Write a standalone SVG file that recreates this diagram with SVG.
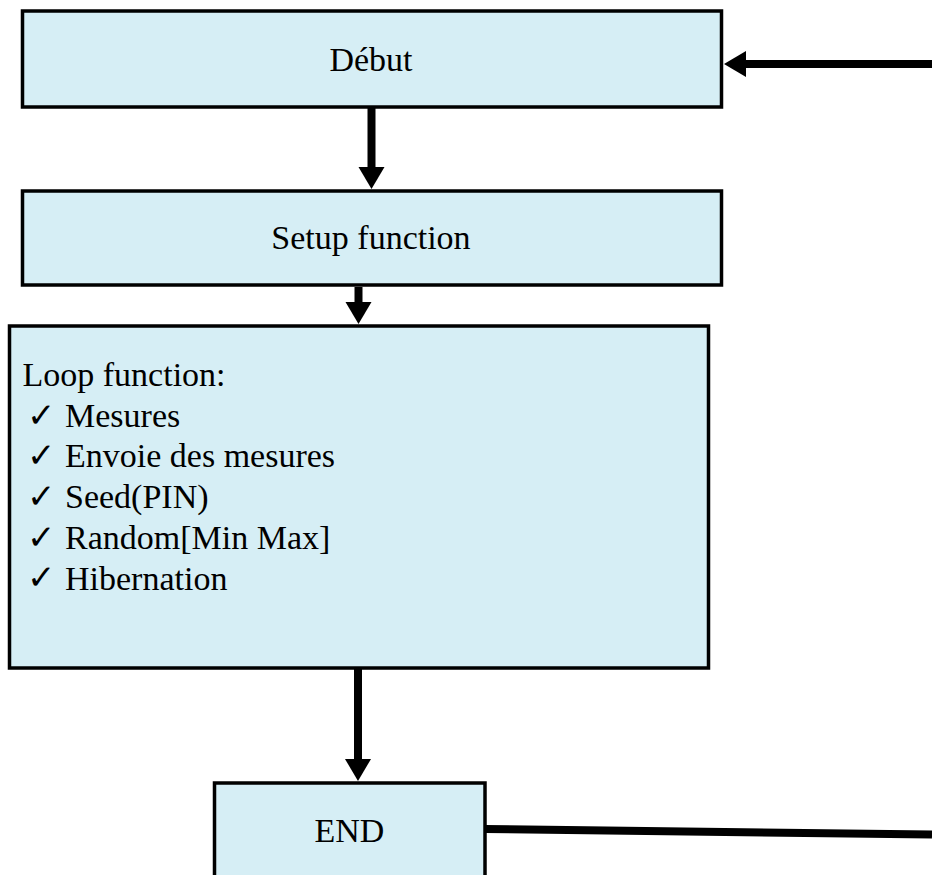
<svg xmlns="http://www.w3.org/2000/svg" width="932" height="875" viewBox="0 0 932 875">
<style>
.box{fill:#d6eef5;stroke:#000;stroke-width:3.5}
.t{font-family:"Liberation Serif","Times New Roman",serif;font-size:34px;fill:#000}
.c{text-anchor:middle}
.ck{font-family:"DejaVu Sans",sans-serif;font-size:34px;fill:#000}
.ln{stroke:#000;stroke-width:8;fill:none}
</style>
<defs>
<marker id="ah" markerUnits="userSpaceOnUse" markerWidth="24" markerHeight="26" viewBox="0 0 24 26" refX="2" refY="13" orient="auto" overflow="visible">
<path d="M0,0 L22,13 L0,26 Z" fill="#000"/>
</marker>
</defs>
<rect width="932" height="875" fill="#fff"/>
<g id="connectors">
<line class="ln" x1="371.5" y1="108" x2="371.5" y2="169" marker-end="url(#ah)"/>
<line class="ln" x1="358.5" y1="287" x2="358.5" y2="304" marker-end="url(#ah)"/>
<line class="ln" x1="358" y1="669" x2="358" y2="761" marker-end="url(#ah)"/>
<line class="ln" x1="932" y1="64" x2="744" y2="64" marker-end="url(#ah)"/>
<line class="ln" x1="485" y1="829" x2="932" y2="834.5"/>
</g>
<g id="debut">
<rect class="box" x="22.5" y="11" width="699" height="96"/>
<text class="t c" x="371" y="71">Début</text>
</g>
<g id="setup">
<rect class="box" x="22.5" y="191" width="699" height="94"/>
<text class="t c" x="371" y="249">Setup function</text>
</g>
<g id="loop">
<rect class="box" x="9.5" y="326" width="699" height="342"/>
<text class="t" x="22.5" y="386">Loop function:</text>
<text class="ck" x="27" y="426.5">✓</text><text class="t" x="65" y="426.7">Mesures</text>
<text class="ck" x="27" y="467.2">✓</text><text class="t" x="65" y="467.4">Envoie des mesures</text>
<text class="ck" x="27" y="507.9">✓</text><text class="t" x="65" y="508.1">Seed(PIN)</text>
<text class="ck" x="27" y="548.6">✓</text><text class="t" x="65" y="548.8">Random[Min Max]</text>
<text class="ck" x="27" y="589.3">✓</text><text class="t" x="65" y="589.5">Hibernation</text>
</g>
<g id="end">
<rect class="box" x="214.5" y="783" width="270.5" height="120"/>
<text class="t c" x="349.5" y="842">END</text>
</g>
</svg>
